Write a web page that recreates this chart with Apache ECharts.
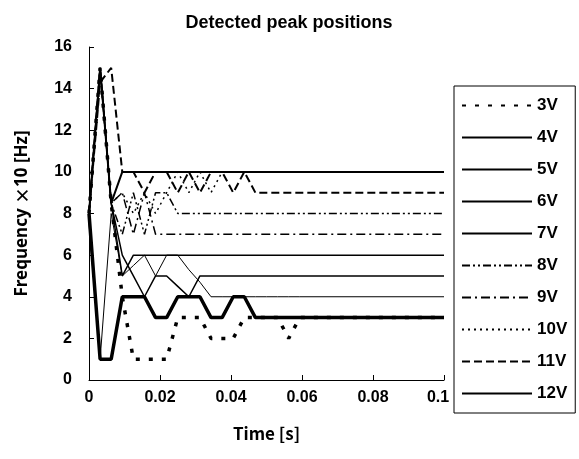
<!DOCTYPE html>
<html>
<head>
    <meta charset="utf-8">
    <title>Detected peak positions</title>
    <script src="https://cdn.jsdelivr.net/npm/echarts@6/dist/echarts.min.js"></script>
    <style>
        html, body { margin: 0; padding: 0; background: #fff; }
        #main { width: 579px; height: 459px; }
    </style>
</head>
<body>
<div id="main"></div>
<script type="text/javascript">
    // sample times [s] (one frame every 1/320 s), last point is the end of the plot
    var time = [0, 0.003125, 0.00625, 0.009375, 0.0125, 0.015625, 0.01875, 0.021875, 0.025, 0.028125,
        0.03125, 0.034375, 0.0375, 0.040625, 0.04375, 0.046875, 0.05, 0.053125, 0.05625, 0.059375, 0.1];

    // detected peak, frequency x10 [Hz]
    var v3  = [8, 15, 8.5, 4, 1, 1, 1, 1, 3, 3, 3, 2, 2, 2, 3, 3, 3, 3, 2, 3, 3];
    var v4  = [8, 1, 1, 4, 4, 4, 3, 3, 4, 4, 4, 3, 3, 4, 4, 3, 3, 3, 3, 3, 3];
    var v5  = [7.5, 1, 8, 5, 5.5, 6, 5, 6, 6, 5.3, 4.7, 4, 4, 4, 4, 4, 4, 4, 4, 4, 4];
    var v6  = [8, 15, 8.5, 6, 5, 4, 5, 5, 4.5, 4, 5, 5, 5, 5, 5, 5, 5, 5, 5, 5, 5];
    var v7  = [8, 15, 8.5, 5, 6, 6, 6, 6, 6, 6, 6, 6, 6, 6, 6, 6, 6, 6, 6, 6, 6];
    var v8  = [8, 15, 8.5, 7, 9, 7, 9, 9, 8, 8, 8, 8, 8, 8, 8, 8, 8, 8, 8, 8, 8];
    var v9  = [8, 15, 8.5, 9, 7, 9, 7, 7, 7, 7, 7, 7, 7, 7, 7, 7, 7, 7, 7, 7, 7];
    var v10 = [8, 15, 8.5, 9, 8, 9, 8, 9, 10, 9, 10, 9, 10, 10, 10, 10, 10, 10, 10, 10, 10];
    var v11 = [8, 14.3, 15, 10, 10, 9, 10, 10, 9, 10, 9, 10, 10, 9, 10, 9, 9, 9, 9, 9, 9];
    var v12 = [8, 15, 8.5, 10, 10, 10, 10, 10, 10, 10, 10, 10, 10, 10, 10, 10, 10, 10, 10, 10, 10];

    var names = ['3V', '4V', '5V', '6V', '7V', '8V', '9V', '10V', '11V', '12V'];
    var values = [v3, v4, v5, v6, v7, v8, v9, v10, v11, v12];
    var widths = [3.5, 3.5, 1, 1.5, 1.5, 1.5, 1.5, 1.5, 2, 2];
    var dashes = [[4, 9], 'solid', 'solid', 'solid', 'solid', [8, 3, 2, 3, 2, 3], [9, 4, 2, 4], [2, 4], [8, 4], 'solid'];

    var font = 'Liberation Sans, Arial, sans-serif';

    var series = [];
    for (var i = 0; i < names.length; i++) {
        var pts = [];
        for (var k = 0; k < time.length; k++) {
            pts.push([time[k], values[i][k]]);
        }
        series.push({
            name: names[i],
            type: 'line',
            symbol: 'none',
            data: pts,
            lineStyle: { color: '#000', width: widths[i], type: dashes[i] },
            itemStyle: { color: '#000' }
        });
    }

    var option = {
        animation: false,
        backgroundColor: '#fff',
        title: {
            text: 'Detected peak positions',
            left: 284, top: 9, textAlign: 'center',
            textStyle: { fontFamily: font, fontSize: 18, fontWeight: 'bold', color: '#000' }
        },
        grid: { left: 89, top: 47, right: 135, bottom: 79 },
        legend: {
            orient: 'vertical',
            left: 454, top: 86,
            padding: [11, 8, 11, 7],
            itemWidth: 70, itemHeight: 14, itemGap: 15,
            borderColor: '#000', borderWidth: 1,
            itemStyle: { opacity: 0 },
            textStyle: { fontFamily: font, fontSize: 17, fontWeight: 'bold', color: '#000' },
            data: names
        },
        xAxis: {
            type: 'value', min: 0, max: 0.1, interval: 0.02,
            name: 'Time [s]', nameLocation: 'middle', nameGap: 45,
            nameTextStyle: { fontFamily: 'Noto Sans CJK JP', fontSize: 17, fontWeight: 'bold', color: '#000' },
            axisLine: { lineStyle: { color: '#000', width: 1 } },
            axisTick: { inside: true, length: 5, lineStyle: { color: '#000' } },
            axisLabel: {
                margin: 10, color: '#000', fontFamily: font, fontSize: 16, fontWeight: 'bold',
                formatter: function (v) {
                    if (v === 0) return '0';
                    var s = String(+v.toFixed(2));
                    return v >= 0.1 ? '{end|' + s + '}' : s;
                },
                rich: { end: { padding: [0, 12, 0, 0], fontFamily: font, fontSize: 16, fontWeight: 'bold', color: '#000' } }
            },
            splitLine: { show: false }
        },
        yAxis: {
            type: 'value', min: 0, max: 16, interval: 2,
            name: 'Frequency {x|\u00d7}10 [Hz]', nameLocation: 'middle', nameGap: 58, nameRotate: 90,
            nameTextStyle: {
                fontFamily: 'Noto Sans', fontSize: 17, fontWeight: 'bold', color: '#000',
                rich: { x: { fontFamily: 'Noto Sans CJK JP', fontSize: 17, fontWeight: 'bold', color: '#000' } }
            },
            axisLine: { show: true, lineStyle: { color: '#000', width: 1 } },
            axisTick: { show: true, inside: true, length: 5, lineStyle: { color: '#000' } },
            axisLabel: { margin: 17, color: '#000', fontFamily: font, fontSize: 16, fontWeight: 'bold' },
            splitLine: { show: false }
        },
        series: series
    };

    var myChart = echarts.init(document.getElementById('main'));
    myChart.setOption(option);
</script>
</body>
</html>
